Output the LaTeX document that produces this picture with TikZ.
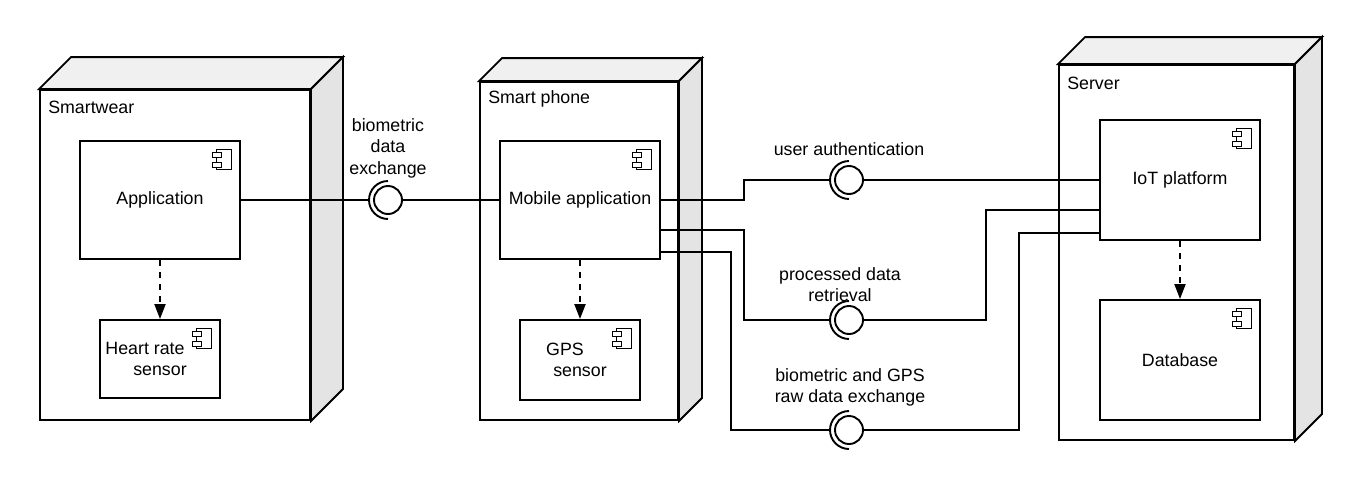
\documentclass[tikz,border=0pt]{standalone}
\usepackage{fontspec}
\setmainfont{Liberation Sans}
\usetikzlibrary{arrows.meta,calc}
\newcommand\lblfont{\fontsize{17.8}{21.5}\selectfont}
\definecolor{topc}{HTML}{F0F0F0}
\definecolor{sidec}{HTML}{E4E4E4}
\newcommand\deepbox[2]{%
  \filldraw[lw,fill=topc,line join=miter] (#1.north west) -- ++(#2,-#2) -- ($(#1.north east)+(#2,-#2)$) -- (#1.north east) -- cycle;
  \filldraw[lw,fill=sidec,line join=miter] (#1.north east) -- ++(#2,-#2) -- ($(#1.south east)+(#2,-#2)$) -- (#1.south east) -- cycle;}
\newcommand\compicon[1]{%
  \draw[iconline,fill=white] ($(#1.north east)+(-24,9)$) rectangle ($(#1.north east)+(-9,29)$);
  \draw[iconline,fill=white] ($(#1.north east)+(-28,12)$) rectangle ($(#1.north east)+(-19,17)$);
  \draw[iconline,fill=white] ($(#1.north east)+(-28,22)$) rectangle ($(#1.north east)+(-19,27)$);}
\newcommand\socket[1]{%
  \draw[lw] ($(#1.center)+(0,19)$) arc[start angle=90,end angle=270,radius=19];}
\begin{document}
\begin{tikzpicture}[x=1pt,y=-1pt,
  lw/.style={line width=1.9pt},
  iconline/.style={line width=1pt},
  front/.style={draw,line width=1.9pt,fill=white,inner sep=0pt},
  comp/.style={draw,line width=1.9pt,fill=white,inner sep=0pt,align=center,font=\lblfont},
  txt/.style={inner sep=0pt,align=center,font=\lblfont},
  ball/.style={circle,draw,line width=1.9pt,fill=white,minimum size=28pt,inner sep=0pt},
  dep/.style={line width=2pt,dash pattern=on 6pt off 6pt,-{Triangle[length=15pt,width=11pt]}},
  wire/.style={line width=1.9pt,line join=miter}]
\useasboundingbox (0,0) rectangle (1360,490);

% deployment nodes
\node[front,minimum width=270pt,minimum height=330pt] (sw) at (175,255) {};
\deepbox{sw}{32}
\node[txt,anchor=west] (swl) at ($(sw.north west)+(9,18)$) {Smartwear};

\node[front,minimum width=198pt,minimum height=338pt] (sp) at (579,251) {};
\deepbox{sp}{23}
\node[txt,anchor=west] (spl) at ($(sp.north west)+(9,18)$) {Smart phone};

\node[front,minimum width=235pt,minimum height=375pt] (srv) at (1176.5,252.5) {};
\deepbox{srv}{27}
\node[txt,anchor=west] (srvl) at ($(srv.north west)+(9,19)$) {Server};

% components
\node[comp,minimum width=160pt,minimum height=118pt] (app) at (160,200) {Application};
\compicon{app}
\node[comp,minimum width=120pt,minimum height=78pt] (hr) at (160,359) {Heart rate\hspace*{30pt}\\sensor};
\compicon{hr}
\node[comp,minimum width=160pt,minimum height=118pt] (mob) at (580,200) {Mobile application};
\compicon{mob}
\node[comp,minimum width=120pt,minimum height=80pt] (gps) at (580,360) {GPS\hspace*{30pt}\\sensor};
\compicon{gps}
\node[comp,minimum width=160pt,minimum height=120pt] (iot) at (1180,180) {IoT platform};
\compicon{iot}
\node[comp,minimum width=160pt,minimum height=120pt] (db) at (1180,360) {Database};
\compicon{db}

% dependencies
\draw[dep] (app.south) -- (hr.north);
\draw[dep] (mob.south) -- (gps.north);
\draw[dep] (iot.south) -- (db.north);

% interfaces
\node[ball] (ib) at (388,200) {};
\node[ball] (iu) at (849,180) {};
\node[ball] (ip) at (849,320) {};
\node[ball] (ir) at (849,430) {};
\socket{ib}\socket{iu}\socket{ip}\socket{ir}

\node[txt] (ibl) at (388,148) {biometric\\data\\exchange};
\node[txt] (iul) at (849,149) {user authentication};
\node[txt] (ipl) at (840,284.5) {processed data\\retrieval};
\node[txt] (irl) at (850,387.5) {biometric and GPS\\raw data exchange};

% connectors
\draw[wire] (app.east) -- ($(ib.center)+(-19,0)$);
\draw[wire] (ib.east) -- (mob.west);

\draw[wire] (mob.east) -- ++(83,0) |- ($(iu.center)+(-19,0)$);
\draw[wire] (iu.east) -- (iot.west);

\draw[wire] ($(mob.east)+(0,30)$) -- ++(83,0) |- ($(ip.center)+(-19,0)$);
\draw[wire] (ip.east) -| ($(iot.west)+(-113,30)$) -- ($(iot.west)+(0,30)$);

\draw[wire] ($(mob.east)+(0,52)$) -- ++(70,0) |- ($(ir.center)+(-19,0)$);
\draw[wire] (ir.east) -| ($(iot.west)+(-80,53)$) -- ($(iot.west)+(0,53)$);
\end{tikzpicture}
\end{document}
